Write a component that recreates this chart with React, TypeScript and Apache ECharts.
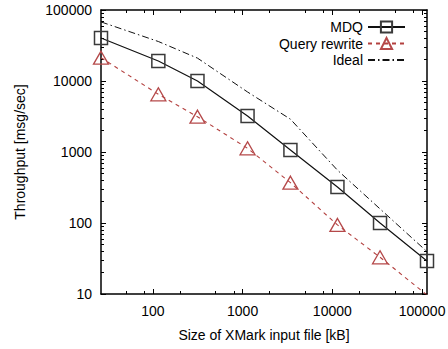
import React, { useEffect, useRef } from 'react';
import * as echarts from 'echarts';

const fileSizesKB = [26.4, 115, 314, 1135, 3410, 11400, 34000, 113500];
const mdqThroughput = [40400, 19100, 10000, 3210, 1067, 321, 100, 29.2];
const queryRewriteThroughput = [21300, 6500, 3140, 1127, 370, 94, 32.9, 9.7];
const idealThroughput = [68000, 36000, 21000, 7000, 2900, 555, 158, 39.5];
const xMajorTicks = [100, 1000, 10000, 100000];
const xMinorTicks = [50, 80, 200, 500, 800, 2000, 5000, 8000, 20000, 50000, 80000];
const yMin = 10;
const yMax = 100000;
const seriesNames = ['MDQ', 'Query rewrite', 'Ideal'];

const FONT = '"Liberation Sans", Arial, Helvetica, sans-serif';

function pairs(ys: number[]) {
  return fileSizesKB.map((x, i) => [x, ys[i]]);
}

export default function App() {
  const ref = useRef<HTMLDivElement>(null);
  useEffect(() => {
    if (!ref.current) return;
    const chart = echarts.init(ref.current, undefined, { renderer: 'svg' });
    const xMin = fileSizesKB[0];
    const xMax = fileSizesKB[fileSizesKB.length - 1];
    const fmt = (v: number) => String(Math.round(v));
    const axisLine = { show: true, lineStyle: { color: '#000', width: 1.5 } };
    const baseX = {
      type: 'log',
      logBase: 10,
      min: xMin,
      max: xMax,
      splitLine: { show: false },
      axisLine,
    };
    const baseY = {
      type: 'log',
      logBase: 10,
      min: yMin,
      max: yMax,
      splitLine: { show: false },
      axisLine,
      axisTick: { show: true, inside: true, length: 5, lineStyle: { color: '#000', width: 1 } },
      minorTick: { show: true, splitNumber: 9, length: 3, lineStyle: { color: '#000', width: 1 } },
    };
    chart.setOption({
      animation: false,
      backgroundColor: '#fff',
      textStyle: { fontFamily: FONT },
      grid: { left: 101, right: 21, top: 10, bottom: 55, outerBoundsMode: 'none' },
      legend: {
        data: [
          { name: seriesNames[0] },
          { name: seriesNames[1] },
          { name: seriesNames[2], itemStyle: { color: 'rgba(0,0,0,0)', borderColor: 'rgba(0,0,0,0)', borderWidth: 0, opacity: 0 } },
        ],
        orient: 'vertical',
        right: 37,
        top: 15,
        align: 'right',
        itemWidth: 37,
        itemHeight: 14,
        itemGap: 2.5,
        textStyle: { fontSize: 14, color: '#000', fontFamily: FONT },
      },
      xAxis: [
        {
          ...baseX,
          position: 'bottom',
          axisTick: { show: true, inside: true, length: 5, customValues: xMajorTicks, lineStyle: { color: '#000' } },
          axisLabel: { show: true, customValues: xMajorTicks, formatter: fmt, margin: 10, fontSize: 14, color: '#000', fontFamily: FONT },
          name: 'Size of XMark input file [kB]',
          nameLocation: 'middle',
          nameGap: 34,
          nameTextStyle: { fontSize: 14, color: '#000', fontFamily: FONT },
        },
        {
          ...baseX,
          position: 'top',
          axisTick: { show: true, inside: true, length: 5, customValues: xMajorTicks, lineStyle: { color: '#000' } },
          axisLabel: { show: false },
        },
        {
          ...baseX,
          position: 'bottom',
          axisLine: { show: false },
          axisTick: { show: true, inside: true, length: 3, customValues: xMinorTicks, lineStyle: { color: '#000' } },
          axisLabel: { show: false },
        },
        {
          ...baseX,
          position: 'top',
          axisLine: { show: false },
          axisTick: { show: true, inside: true, length: 3, customValues: xMinorTicks, lineStyle: { color: '#000' } },
          axisLabel: { show: false },
        },
      ],
      yAxis: [
        {
          ...baseY,
          position: 'left',
          axisLabel: { show: true, formatter: fmt, margin: 9, fontSize: 14, color: '#000', fontFamily: FONT },
          name: 'Throughput [msg/sec]',
          nameLocation: 'middle',
          nameGap: 74,
          nameRotate: 90,
          nameTextStyle: { fontSize: 14, color: '#000', fontFamily: FONT },
        },
        {
          ...baseY,
          position: 'right',
          axisLabel: { show: false },
        },
      ],
      series: [
        {
          name: seriesNames[0],
          type: 'line',
          data: pairs(mdqThroughput),
          symbol: 'rect',
          symbolSize: 13,
          lineStyle: { color: '#111', width: 1.2 },
          itemStyle: { color: 'rgba(0,0,0,0)', borderColor: '#3a3a3a', borderWidth: 1.5 },
          z: 3,
        },
        {
          name: seriesNames[1],
          type: 'line',
          data: pairs(queryRewriteThroughput),
          symbol: 'triangle',
          symbolSize: [15, 13],
          lineStyle: { color: '#b3403f', width: 1.1, type: [4, 4] },
          itemStyle: { color: 'rgba(0,0,0,0)', borderColor: '#b5494a', borderWidth: 1.3 },
          z: 2,
        },
        {
          name: seriesNames[2],
          type: 'line',
          data: pairs(idealThroughput),
          symbol: 'none',
          lineStyle: { color: '#111', width: 1, type: [7, 3, 1.5, 3] },
          itemStyle: { color: 'rgba(0,0,0,0)', borderWidth: 0 },
          z: 1,
        },
      ],
    });
    return () => chart.dispose();
  }, []);
  return (
    <div
      ref={ref}
      style={{ position: 'fixed', left: 0, top: 0, width: 448, height: 349, background: '#fff' }}
    />
  );
}
